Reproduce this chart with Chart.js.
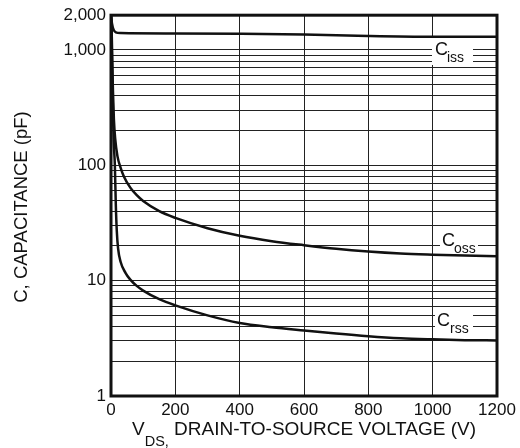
<!DOCTYPE html>
<html>
<head>
<meta charset="utf-8">
<script src="https://cdn.jsdelivr.net/npm/chart.js@4.4.1/dist/chart.umd.min.js"></script>
<style>
  body { margin: 0; background: #fff; }
  #wrap { width: 520px; height: 448px; position: relative; }
</style>
</head>
<body>
<div id="wrap"><canvas id="capChart"></canvas></div>
<script>
// V_DS (V) vs capacitance (pF)
const cissV = [0, 3, 8, 15, 30, 200, 400, 600, 800, 1000, 1200];
const cissC = [2000, 1700, 1500, 1420, 1400, 1390, 1380, 1360, 1320, 1300, 1300];

const cossV = [0, 2, 4, 6, 9, 13, 20, 30, 40, 60, 80, 100, 150, 200, 300, 400, 500, 600, 700, 800, 900, 1000, 1100, 1200];
const cossC = [2000, 1500, 800, 450, 250, 170, 120, 95, 80, 64, 55, 49, 40, 35, 28.5, 24.5, 22, 20.3, 18.9, 17.9, 17.2, 16.8, 16.5, 16.3];

const crssV = [0, 2, 4, 6, 8, 12, 15, 18, 22, 30, 45, 60, 80, 100, 150, 200, 300, 400, 500, 600, 700, 800, 900, 1000, 1100, 1200];
const crssC = [2000, 1200, 600, 300, 170, 100, 45, 27, 19, 14.5, 11.7, 10.2, 9, 8.2, 6.9, 6.1, 5.0, 4.3, 3.95, 3.7, 3.48, 3.3, 3.17, 3.1, 3.05, 3.03];

const xTicks = [0, 200, 400, 600, 800, 1000, 1200];
const yTicks = [1, 2, 3, 4, 5, 6, 7, 8, 9, 10, 20, 30, 40, 50, 60, 70, 80, 90,
                100, 200, 300, 400, 500, 600, 700, 800, 900, 1000, 2000];
const yLabelValues = [1, 10, 100, 1000, 2000];
const yLabelTexts = ["1", "10", "100", "1,000", "2,000"];

const curveNames = ["C", "C", "C"];
const curveSubs = ["iss", "oss", "rss"];

const FONT = '"Liberation Sans", Arial, sans-serif';

function pairs(xs, ys) {
    return xs.map((x, i) => ({ x: x, y: ys[i] }));
}

function lineSet(xs, ys) {
    return {
        data: pairs(xs, ys),
        borderColor: '#111',
        borderWidth: 2.5,
        pointRadius: 0,
        fill: false,
        cubicInterpolationMode: 'monotone'
    };
}

// label boxes: [left, top, width, height] in px, and text origin
const labelBoxes = [
    { box: [432, 38, 41, 27], cx: 435, cy: 55, sx: 447, sy: 62 },
    { box: [440, 227, 38, 25], cx: 442, cy: 246, sx: 454, sy: 253 },
    { box: [435, 308, 38, 26], cx: 437, cy: 326, sx: 450, sy: 333 }
];

const decorPlugin = {
    id: 'decor',
    beforeDatasetsDraw(chart) {
        const c = chart.ctx;
        c.save();
        c.fillStyle = '#fff';
        labelBoxes.forEach(l => c.fillRect(l.box[0], l.box[1], l.box[2], l.box[3]));
        c.restore();
    },
    afterDraw(chart) {
        const c = chart.ctx;
        const a = chart.chartArea;
        c.save();
        // frame
        c.strokeStyle = '#111';
        c.lineWidth = 3;
        c.strokeRect(a.left, a.top, a.right - a.left, a.bottom - a.top);

        c.fillStyle = '#111';
        c.textBaseline = 'alphabetic';
        c.textAlign = 'left';
        labelBoxes.forEach((l, i) => {
            c.font = '18px ' + FONT;
            c.fillText(curveNames[i], l.cx, l.cy);
            c.font = '14px ' + FONT;
            c.fillText(curveSubs[i], l.sx, l.sy);
        });

        // x title with subscript
        const big = '19px ' + FONT, small = '14.5px ' + FONT;
        const partA = 'V', partB = 'DS,', partC = ' DRAIN-TO-SOURCE VOLTAGE (V)';
        c.font = big;
        const wA = c.measureText(partA).width;
        const wC = c.measureText(partC).width;
        c.font = small;
        const wB = c.measureText(partB).width;
        let x = (a.left + a.right) / 2 - (wA + wB + wC) / 2;
        c.font = big;
        c.fillText(partA, x, 435);
        x += wA;
        c.font = small;
        c.fillText(partB, x, 446);
        x += wB;
        c.font = big;
        c.fillText(partC, x, 435);

        // y title
        c.translate(22, 207);
        c.rotate(-Math.PI / 2);
        c.textAlign = 'center';
        c.textBaseline = 'middle';
        c.font = '18.5px ' + FONT;
        c.fillText('C, CAPACITANCE (pF)', 0, 0);
        c.restore();
    }
};

const ctx = document.getElementById('capChart').getContext('2d');
const chart = new Chart(ctx, {
    type: 'line',
    data: {
        datasets: [lineSet(cissV, cissC), lineSet(cossV, cossC), lineSet(crssV, crssC)]
    },
    options: {
        responsive: true,
        maintainAspectRatio: false,
        animation: false,
        layout: { padding: { top: 10, right: 23, left: 0, bottom: 0 } },
        plugins: { legend: { display: false }, tooltip: { enabled: false } },
        scales: {
            x: {
                type: 'linear',
                min: 0,
                max: 1200,
                afterBuildTicks: s => { s.ticks = xTicks.map(v => ({ value: v })); },
                afterFit: s => { s.height = 52; },
                ticks: {
                    callback: v => String(v),
                    color: '#111',
                    font: { family: FONT, size: 17 },
                    padding: 4,
                    maxRotation: 0
                },
                grid: { color: '#222', lineWidth: 1, drawTicks: false },
                border: { display: false }
            },
            y: {
                type: 'logarithmic',
                min: 1,
                max: 2000,
                afterBuildTicks: s => { s.ticks = yTicks.map(v => ({ value: v })); },
                afterFit: s => { s.width = 111; },
                ticks: {
                    autoSkip: false,
                    callback: v => {
                        const i = yLabelValues.indexOf(v);
                        return i >= 0 ? yLabelTexts[i] : '';
                    },
                    color: '#111',
                    font: { family: FONT, size: 17 },
                    padding: 5
                },
                grid: { color: '#222', lineWidth: 1, drawTicks: false },
                border: { display: false }
            }
        }
    },
    plugins: [decorPlugin]
});
</script>
</body>
</html>
